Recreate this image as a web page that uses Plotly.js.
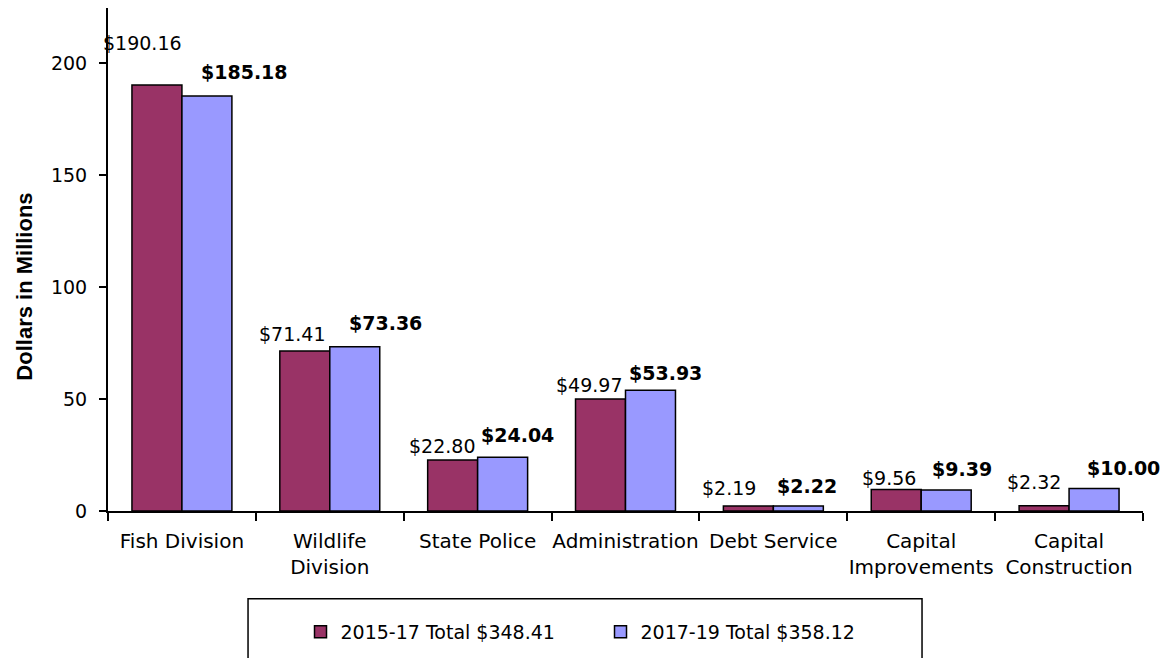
<!DOCTYPE html>
<html>
<head>
<meta charset="utf-8">
<script src="https://cdn.plot.ly/plotly-3.0.1.min.js"></script>
<style>html,body{margin:0;padding:0;background:#fff;}#chart{width:1161px;height:658px;}</style>
</head>
<body>
<div id="chart"></div>
<script>
// ---- data ----
var categories = ["Fish Division", "Wildlife<br>Division", "State Police", "Administration", "Debt Service", "Capital<br>Improvements", "Capital<br>Construction"];
var seriesNames = ["2015-17 Total $348.41", "2017-19 Total $358.12"];
var values1517 = [190.16, 71.41, 22.80, 49.97, 2.19, 9.56, 2.32];
var values1719 = [185.18, 73.36, 24.04, 53.93, 2.22, 9.39, 10.00];
var yTicks = [0, 50, 100, 150, 200];
var yTitle = "Dollars in Millions";

// ---- label placement (style only, pixel nudges) ----
var dx1517 = [-14, -13, -11, -12, -19, -7, -10];
var dy1517 = [42, 17, 14, 14, 18, 12, 24];
var dx1719 = [38, 31, 15, 15, 9, 16, 29];
var dy1719 = [24, 24, 22, 17, 20, 21, 21];

var FONT = "DejaVu Sans, Verdana, sans-serif";
var c1 = "#993366", c2 = "#9999FF";

var traces = [
  {type: "bar", name: seriesNames[0], x: categories, y: values1517,
   marker: {color: c1, line: {color: "#000", width: 1.5}}, hoverinfo: "y"},
  {type: "bar", name: seriesNames[1], x: categories, y: values1719,
   marker: {color: c2, line: {color: "#000", width: 1.5}}, hoverinfo: "y"}
];

var annotations = [];
var halfBar = 25;
categories.forEach(function (c, i) {
  annotations.push({x: c, y: values1517[i], xref: "x", yref: "y", text: "$" + values1517[i].toFixed(2),
    showarrow: false, xanchor: "center", yanchor: "middle",
    xshift: -halfBar + dx1517[i], yshift: dy1517[i], font: {family: FONT, size: 19, color: "#000"}});
  annotations.push({x: c, y: values1719[i], xref: "x", yref: "y", text: "<b>$" + values1719[i].toFixed(2) + "</b>",
    showarrow: false, xanchor: "center", yanchor: "middle",
    xshift: halfBar + dx1719[i], yshift: dy1719[i], font: {family: FONT, size: 19, color: "#000"}});
});
// y-axis title as rotated text
annotations.push({xref: "paper", yref: "paper", x: -0.0802, y: 0.446, xanchor: "center", yanchor: "middle",
  text: "<b>" + yTitle + "</b>", textangle: -90, showarrow: false,
  font: {family: "Liberation Sans, Arial, sans-serif", size: 22, color: "#000"}});

var layout = {
  width: 1161, height: 658,
  margin: {l: 108, r: 18, t: 8, b: 146},
  paper_bgcolor: "#fff", plot_bgcolor: "#fff",
  font: {family: FONT, size: 19, color: "#000"},
  barmode: "group", bargap: 0.324, bargroupgap: 0,
  showlegend: true,
  legend: {orientation: "h", x: 0.186, xanchor: "left", y: -0.2, yanchor: "top",
    entrywidth: 255, entrywidthmode: "pixels", bgcolor: "rgba(0,0,0,0)",
    font: {family: FONT, size: 19, color: "#000"}, traceorder: "normal"},
  xaxis: {type: "category", range: [-0.5, 6.5], autorange: false, tickson: "boundaries", ticks: "outside", ticklen: 8, tickwidth: 2, tickcolor: "#000",
    showline: true, linecolor: "#000", linewidth: 2, showgrid: false, zeroline: false, tickangle: 0,
    ticklabelstandoff: 11, tickfont: {family: FONT, size: 20}, fixedrange: true},
  yaxis: {range: [0, 224.5], autorange: false, tickvals: yTicks, ticktext: yTicks.map(String), ticks: "outside", ticklen: 7, tickwidth: 2,
    tickcolor: "#000", showline: true, linecolor: "#000", linewidth: 2, showgrid: false, zeroline: false,
    ticklabelstandoff: 8, tickfont: {family: FONT, size: 19}, fixedrange: true},
  annotations: annotations,
  shapes: [{type: "rect", xref: "paper", yref: "paper", x0: 0.1353, x1: 0.7865, y0: -0.1746, y1: -0.6,
    line: {color: "#000", width: 1.5}, fillcolor: "rgba(0,0,0,0)", layer: "below"}]
};

Plotly.newPlot("chart", traces, layout, {displayModeBar: false, staticPlot: true});
</script>
</body>
</html>
